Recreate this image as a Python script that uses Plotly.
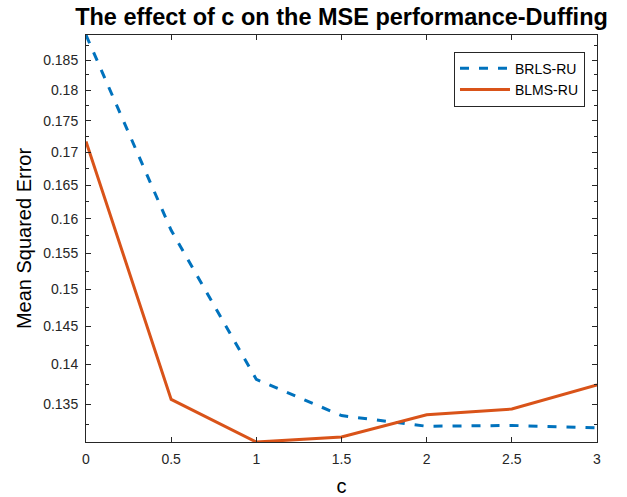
import plotly.graph_objects as go

c_vals = [0, 0.5, 1, 1.5, 2, 2.5, 3]
brls_ru = [0.1893, 0.1583, 0.1381, 0.1336, 0.1323, 0.1324, 0.1321]
blms_ru = [0.1717, 0.1356, 0.1304, 0.1310, 0.1337, 0.1344, 0.1374]
series_names = ["BRLS-RU", "BLMS-RU"]
x_ticks = [0, 0.5, 1, 1.5, 2, 2.5, 3]
x_tick_text = ["0", "0.5", "1", "1.5", "2", "2.5", "3"]
y_ticks = [0.135, 0.14, 0.145, 0.15, 0.155, 0.16, 0.165, 0.17, 0.175, 0.18, 0.185]
y_tick_text = ["0.135", "0.14", "0.145", "0.15", "0.155", "0.16", "0.165", "0.17", "0.175", "0.18", "0.185"]
y_minor = [0.1325 + 0.005 * i for i in range(12)]

FONT = "Liberation Sans, Arial, Helvetica, sans-serif"
AX = "#262626"

fig = go.Figure()
fig.add_trace(go.Scatter(x=c_vals, y=brls_ru, mode="lines", name=series_names[0],
                         line=dict(color="#0072BD", width=3, dash="9px,10px")))
fig.add_trace(go.Scatter(x=c_vals, y=blms_ru, mode="lines", name=series_names[1],
                         line=dict(color="#D95319", width=3)))

fig.update_layout(
    width=627, height=497,
    margin=dict(l=86, r=30, t=35, b=55),
    plot_bgcolor="white", paper_bgcolor="white",
    font=dict(family=FONT, color=AX, size=14),
    title=dict(text="<b>The effect of c on the MSE performance-Duffing</b>",
               font=dict(size=23.5, color="black", family=FONT),
               x=0.5, xref="paper", xanchor="center",
               y=1 - 17 / 497, yref="container", yanchor="middle"),
    legend=dict(x=0.9765, y=0.959, xanchor="right", yanchor="top",
                bgcolor="white", bordercolor=AX, borderwidth=1,
                font=dict(size=14, color="black", family=FONT),
                tracegroupgap=0, itemwidth=50),
    xaxis=dict(range=[0, 3], tickmode="array", tickvals=x_ticks, ticktext=x_tick_text,
               ticks="inside", ticklen=5, tickcolor=AX, showline=True, linecolor=AX,
               linewidth=1, mirror="ticks", showgrid=False, zeroline=False,
               tickfont=dict(size=14, color=AX), ticklabelstandoff=4, automargin=False,
               title=dict(text="c", font=dict(size=20, color="black"), standoff=13)),
    yaxis=dict(type="log", range=[-0.8847, -0.72285], tickmode="array",
               tickvals=y_ticks, ticktext=y_tick_text,
               ticks="inside", ticklen=5, tickcolor=AX, showline=True, linecolor=AX,
               linewidth=1, mirror="ticks", showgrid=False, zeroline=False,
               tickfont=dict(size=14, color=AX), ticklabelstandoff=4, automargin=False,
               minor=dict(tickmode="array", tickvals=y_minor, ticks="inside",
                          ticklen=3, tickcolor=AX, showgrid=False),
               title=dict(text="Mean Squared Error", font=dict(size=20, color="black"),
                          standoff=6)),
)

fig.write_html("out.html")
